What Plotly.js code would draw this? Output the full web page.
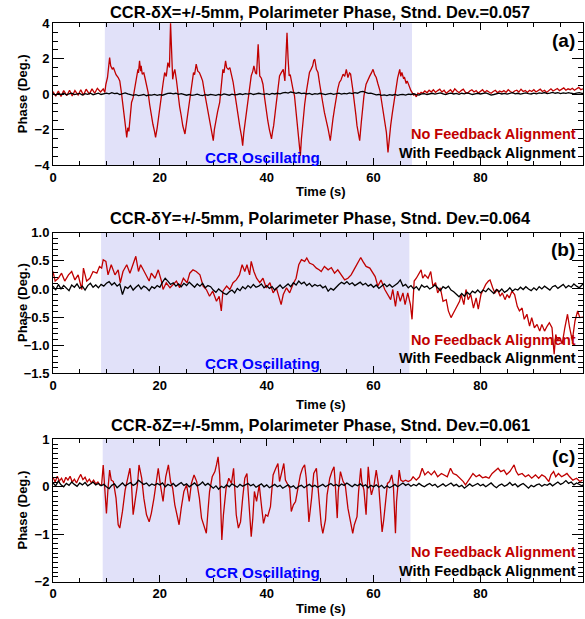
<!DOCTYPE html>
<html><head><meta charset="utf-8">
<script src="https://cdn.plot.ly/plotly-3.0.1.min.js"></script>
<style>html,body{margin:0;padding:0;background:#fff}#plot{width:585px;height:619px}</style>
</head><body><div id="plot"></div>
<script>
// ---------- DATA ----------
const panelTitles = [
  "CCR-\u03b4X=+/-5mm, Polarimeter Phase, Stnd. Dev.=0.057",
  "CCR-\u03b4Y=+/-5mm, Polarimeter Phase, Stnd. Dev.=0.064",
  "CCR-\u03b4Z=+/-5mm, Polarimeter Phase, Stnd. Dev.=0.061"
];
const panelTags = ["(a)", "(b)", "(c)"];
const seriesNames = ["No Feedback Alignment", "With Feedback Alignment"];
const shadeLabel = "CCR Oscillating";
const oscStart = [9.7, 9.0, 9.3];
const oscEnd = [67.2, 66.7, 66.9];

// No-feedback (red) traces: [time (s), phase (deg)]
const noFbA = [
[0,0.15],[0.5,-0.12],[1.0,0.18],[1.5,-0.13],[2.0,0.2],[2.6,-0.08],[3.1,0.22],[3.6,-0.1],[4.1,0.2],[4.7,-0.05],
[5.2,0.25],[5.7,-0.06],[6.2,0.28],[6.8,0.0],[7.3,0.3],[7.8,0.05],[8.3,0.33],[8.9,0.12],[9.4,0.3],[9.7,0.1],
[9.9,0.56],[10.2,0.94],[10.4,1.5],[10.6,2.07],[10.8,1.6],[11.1,1.4],[11.3,1.5],[11.5,1.31],[11.8,1.1],[12.2,0.94],
[12.5,0.75],[12.8,0.1],[13.1,-0.8],[13.3,-1.4],[13.6,-1.9],[13.8,-2.44],[14.0,-1.9],[14.2,-2.1],[14.4,-1.5],[14.7,-0.47],
[15.0,-0.2],[15.3,0.28],[15.6,0.9],[15.9,1.4],[16.0,1.2],[16.2,1.88],[16.4,1.3],[16.5,1.6],[16.7,1.13],[17.0,1.2],
[17.2,0.94],[17.5,0.5],[17.8,0.1],[18.1,-0.6],[18.4,-1.22],[18.7,-1.7],[19.0,-2.1],[19.2,-2.44],[19.5,-1.9],[19.7,-1.4],
[20.0,-0.7],[20.3,-0.1],[20.6,0.6],[20.9,1.22],[21.2,1.0],[21.5,1.78],[21.8,1.5],[22.0,4.03],[22.2,2.0],[22.4,0.84],
[22.6,1.2],[22.8,1.4],[23.1,0.8],[23.4,-0.1],[23.7,-0.7],[24.0,-1.22],[24.3,-1.8],[24.7,-2.25],[24.9,-1.8],[25.1,-1.4],
[25.4,-0.6],[25.7,0.1],[26.0,0.7],[26.3,1.22],[26.5,1.1],[26.8,1.69],[27.1,1.3],[27.4,1.22],[27.7,1.0],[28.0,0.75],
[28.3,0.2],[28.7,-0.47],[29.0,-0.9],[29.3,-1.4],[29.6,-1.9],[30.0,-2.63],[30.2,-2.0],[30.5,-1.4],[30.8,-1.0],[31.2,-0.47],
[31.5,0.5],[31.8,1.4],[32.0,1.2],[32.3,1.88],[32.5,1.5],[32.8,1.4],[33.1,1.5],[33.4,1.13],[33.7,0.7],[34.0,0.1],
[34.3,-0.6],[34.6,-1.22],[35.0,-1.9],[35.3,-2.4],[35.5,-2.91],[35.7,-2.2],[35.9,-1.78],[36.2,-1.1],[36.5,-0.47],[36.8,0.3],
[37.1,1.03],[37.4,1.3],[37.6,1.6],[37.9,1.2],[38.1,1.13],[38.4,2.82],[38.6,1.5],[38.7,1.03],[39.0,0.9],[39.3,0.56],
[39.6,-0.2],[39.9,-1.03],[40.2,-1.5],[40.5,-2.0],[40.9,-2.53],[41.1,-2.1],[41.3,-1.78],[41.6,-1.0],[41.8,-0.47],[42.1,0.3],
[42.4,1.03],[42.7,1.2],[43.1,1.4],[43.4,0.75],[43.6,2.0],[43.8,3.47],[44.0,2.0],[44.2,1.03],[44.4,1.1],[44.6,0.66],
[44.9,0.3],[45.2,-0.1],[45.5,-1.0],[45.8,-1.97],[46.0,-2.6],[46.3,-3.47],[46.5,-2.5],[46.8,-1.4],[47.1,-0.6],[47.4,0.1],
[47.7,0.7],[48.0,1.22],[48.3,1.4],[48.6,1.6],[48.8,1.9],[49.0,1.97],[49.3,1.4],[49.6,1.22],[49.9,0.6],[50.2,-0.1],
[50.5,-0.5],[50.8,-1.03],[51.2,-1.5],[51.5,-1.97],[51.9,-2.63],[52.1,-2.0],[52.4,-1.4],[52.7,-0.8],[53.0,-0.1],[53.3,0.3],
[53.6,0.66],[53.9,0.8],[54.3,1.13],[54.6,1.0],[54.9,1.4],[55.2,0.94],[55.5,1.2],[55.7,1.13],[56.1,0.28],[56.4,-0.66],
[56.7,-1.2],[56.9,-1.78],[57.2,-2.2],[57.4,-2.63],[57.7,-1.6],[58.0,-0.8],[58.2,-0.1],[58.6,0.56],[58.9,0.8],[59.3,1.03],
[59.6,1.2],[59.9,1.4],[60.2,1.1],[60.5,0.94],[60.8,0.6],[61.2,0.19],[61.5,-0.4],[61.8,-1.03],[62.1,-1.6],[62.4,-2.16],
[62.7,-3.29],[62.9,-2.5],[63.2,-1.78],[63.5,-1.1],[63.8,-0.47],[64.0,0.1],[64.2,0.47],[64.5,0.9],[64.9,1.4],[65.1,1.0],
[65.3,1.22],[65.6,0.9],[65.8,0.94],[66.1,0.6],[66.3,0.75],[66.7,0.38],[67.0,0.2],[67.2,0.1],[67.5,-0.05],[67.7,0.0],
[68.0,-0.15],[68.3,0.05],[68.6,0.0],[68.9,0.1],[69.2,0.05],[69.6,0.18],[70.0,0.08],[70.4,0.22],[70.8,0.12],[71.2,0.25],
[71.6,0.1],[72.0,0.2],[72.4,0.28],[72.8,0.12],[73.2,0.22],[73.6,0.05],[74.0,0.15],[74.4,0.25],[74.8,0.1],[75.2,0.3],
[75.6,0.18],[76.0,0.08],[76.4,0.2],[76.8,0.28],[77.2,0.1],[77.6,0.05],[78.0,0.18],[78.4,0.25],[78.8,0.12],[79.2,0.2],
[79.6,0.06],[80.0,0.15],[80.4,0.25],[80.8,0.1],[81.2,0.2],[81.6,0.12],[82.0,0.05],[82.4,0.15],[82.8,0.22],[83.2,0.08],
[83.6,0.18],[84.0,0.12],[84.4,0.2],[84.8,0.1],[85.2,0.25],[85.6,0.15],[86.0,0.08],[86.4,0.18],[86.8,0.22],[87.2,0.12],
[87.6,0.28],[88.0,0.15],[88.4,0.2],[88.8,0.1],[89.2,0.22],[89.6,0.15],[90.0,0.25],[90.4,0.12],[90.8,0.2],[91.2,0.28],
[91.6,0.15],[92.0,0.22],[92.4,0.1],[92.8,0.2],[93.2,0.3],[93.6,0.18],[94.0,0.25],[94.4,0.32],[94.8,0.2],[95.2,0.28],
[95.6,0.35],[96.0,0.22],[96.4,0.3],[96.8,0.25],[97.2,0.33],[97.6,0.22],[98.0,0.3],[98.4,0.38],[98.8,0.25],[99.2,0.3]
];
const noFbB = [
[0,0.31],[0.4,0.14],[1.0,0.19],[1.6,0.28],[2.2,0.14],[2.9,0.25],[3.5,0.31],[4.1,0.16],[4.7,0.25],[5.4,-0.01],
[5.7,0.37],[6.3,0.14],[6.9,0.19],[7.5,0.31],[8.2,0.28],[8.7,0.4],[9.1,0.37],[9.4,0.52],[9.9,0.49],[10.3,0.25],
[10.9,0.43],[11.6,0.25],[12.2,0.34],[12.6,0.11],[13.1,0.31],[13.8,0.43],[14.4,0.28],[15.0,0.43],[15.5,0.58],[16.0,0.31],
[16.4,0.43],[16.9,0.34],[17.5,0.22],[18.0,0.14],[18.4,0.28],[19.1,0.19],[19.7,0.34],[20.3,0.14],[20.6,-0.01],[21.2,0.11],
[21.9,0.02],[22.5,0.08],[23.1,0.14],[23.7,0.02],[24.4,0.19],[25.1,0.11],[25.6,0.28],[26.2,0.34],[26.8,0.31],[27.5,0.25],
[28.1,0.05],[28.7,-0.01],[29.3,-0.13],[29.9,-0.04],[30.6,-0.22],[31.1,-0.13],[31.5,-0.39],[31.8,-0.04],[32.5,0.05],[33.1,-0.01],
[33.7,0.11],[34.3,0.16],[34.9,0.25],[35.4,0.43],[35.9,0.31],[36.3,0.43],[36.8,0.25],[37.1,0.49],[37.6,0.31],[38.1,0.19],
[38.7,0.11],[39.3,0.19],[39.9,0.02],[40.6,0.11],[41.2,-0.07],[41.8,0.02],[42.4,-0.19],[42.7,-0.28],[43.1,-0.1],[43.7,0.02],
[44.3,-0.07],[44.9,0.08],[45.5,0.19],[46.0,0.43],[46.5,0.52],[47.1,0.49],[47.5,0.55],[48.0,0.46],[48.7,0.43],[49.3,0.37],
[49.8,0.34],[50.2,0.31],[50.8,0.4],[51.5,0.34],[52.1,0.38],[52.7,0.28],[53.3,0.34],[54.0,0.25],[54.6,0.16],[55.2,0.19],
[55.8,0.25],[56.5,0.37],[57.1,0.49],[57.6,0.56],[58.0,0.49],[58.6,0.4],[59.3,0.37],[59.9,0.28],[60.3,0.22],[60.8,0.05],
[61.4,0.16],[62.1,-0.01],[62.7,-0.1],[63.2,-0.19],[63.6,-0.01],[64.1,-0.31],[64.5,-0.04],[65.0,-0.22],[65.5,-0.07],[65.9,-0.28],
[66.4,-0.07],[66.9,-0.28],[67.2,-0.54],[67.6,0.14],[68.0,0.19],[68.6,0.31],[68.9,0.34],[69.2,0.19],[69.6,0.25],[70.2,0.19],
[70.7,0.31],[71.1,0.05],[71.6,0.11],[72.0,-0.07],[72.5,0.02],[73.0,-0.22],[73.6,-0.19],[74.0,-0.39],[74.5,-0.51],[75.0,-0.42],
[75.5,-0.34],[76.1,-0.22],[76.4,-0.1],[76.9,-0.28],[77.3,-0.01],[77.7,-0.19],[78.2,-0.1],[78.7,-0.34],[79.2,-0.16],[79.6,-0.36],
[80.1,-0.1],[80.6,-0.01],[81.0,0.08],[81.5,0.14],[81.8,0.16],[82.3,0.02],[82.7,-0.07],[83.2,-0.01],[83.7,-0.13],[84.1,-0.07],
[84.6,-0.19],[85.0,-0.1],[85.4,-0.16],[85.9,-0.04],[86.4,-0.1],[86.9,-0.31],[87.3,-0.39],[87.8,-0.34],[88.2,-0.54],[88.7,-0.45],
[89.2,-0.66],[89.6,-0.51],[90.1,-0.69],[90.6,-0.63],[91.1,-0.75],[91.5,-0.63],[92.0,-0.75],[92.5,-0.66],[92.9,-0.6],[93.4,-0.69],
[93.8,-1.16],[94.1,-0.81],[94.4,-0.92],[94.8,-0.86],[95.3,-0.98],[95.8,-0.69],[96.3,-0.45],[96.7,-0.69],[97.2,-0.92],[97.7,-0.57],
[98.2,-0.39],[98.6,-0.51],[99.2,-0.5]
];
const noFbC = [
[0,0.2],[0.4,0.1],[0.8,0.22],[1.2,0.12],[1.6,0.18],[2.0,0.08],[2.4,0.2],[2.8,0.14],[3.2,0.22],[3.6,0.1],
[4.0,0.16],[4.4,0.08],[4.8,0.18],[5.2,0.26],[5.6,0.15],[6.0,0.2],[6.4,0.1],[6.8,0.16],[7.2,0.08],[7.6,0.14],
[8.0,0.06],[8.4,0.1],[8.8,0.03],[9.1,0.04],[9.4,0.46],[9.7,0.04],[10.0,-0.56],[10.3,-0.03],[10.6,0.35],[10.9,0.14],
[11.3,0.11],[11.8,-0.24],[12.2,-0.8],[12.5,-0.87],[13.0,-0.52],[13.5,-0.07],[13.9,0.11],[14.4,0.39],[14.7,0.04],[15.0,-0.59],
[15.3,-0.35],[15.8,0.04],[16.1,0.46],[16.6,0.18],[17.0,-0.24],[17.5,-0.59],[18.0,-0.74],[18.4,-0.56],[18.9,-0.24],[19.4,0.11],
[19.7,0.39],[20.1,0.04],[20.6,-0.31],[21.1,0.21],[21.6,0.46],[22.0,0.11],[22.4,-0.03],[22.8,-0.38],[23.2,-0.56],[23.6,-0.8],
[24.0,-0.45],[24.5,-0.1],[25.0,0.04],[25.5,-0.31],[25.9,0.07],[26.4,0.25],[26.9,0.11],[27.4,-0.24],[27.8,-0.66],[28.2,-0.8],
[28.7,-0.98],[29.0,-0.52],[29.3,-0.1],[29.8,0.21],[30.3,0.32],[30.6,0.46],[30.9,0.63],[31.2,0.25],[31.4,-0.52],[31.6,-1.12],
[31.9,-0.59],[32.4,-0.03],[32.9,0.18],[33.4,0.07],[33.8,0.39],[34.1,-0.17],[34.3,-0.59],[34.7,-0.87],[35.1,-0.74],[35.5,-0.24],
[35.9,0.18],[36.3,0.28],[36.7,-0.45],[37.1,-1.05],[37.4,-0.66],[37.7,-0.1],[38.1,-0.31],[38.6,0.04],[39.0,-0.38],[39.4,-0.77],
[39.8,-0.59],[40.2,-0.62],[40.7,-0.42],[41.2,0.25],[41.7,0.39],[42.1,0.49],[42.4,0.11],[42.7,0.25],[43.2,0.49],[43.5,0.14],
[44.0,0.04],[44.3,-0.03],[44.6,-0.52],[45.0,-0.38],[45.4,-0.31],[45.8,-0.03],[46.3,0.25],[46.7,0.39],[47.1,0.46],[47.4,0.18],
[47.9,-0.74],[48.4,-0.24],[48.8,0.28],[49.3,0.39],[49.6,0.04],[49.9,-0.31],[50.2,-0.8],[50.5,-0.98],[51.0,-0.7],[51.3,-0.17],
[51.8,0.18],[52.2,0.32],[52.6,0.42],[52.8,0.11],[53.2,-0.66],[53.4,-0.1],[53.8,0.32],[54.3,0.11],[54.7,0.04],[55.2,-0.45],
[55.7,-0.74],[56.1,-0.98],[56.4,-0.8],[56.9,-0.63],[57.2,-0.1],[57.6,0.39],[57.8,0.11],[58.2,-0.07],[58.6,-0.59],[59.0,0.42],
[59.3,0.04],[59.6,-0.17],[60.1,0.04],[60.5,0.35],[61.0,-0.03],[61.3,-0.59],[61.6,-0.95],[61.9,-0.7],[62.2,-0.31],[62.6,0.07],
[63.0,0.11],[63.4,0.25],[63.7,0.04],[63.9,-0.45],[64.1,-0.98],[64.3,-0.31],[64.6,0.18],[64.8,0.35],[65.1,0.14],[65.5,0.11],
[66.0,0.14],[66.5,0.11],[67.0,0.14],[67.4,0.21],[68.0,0.14],[68.6,0.21],[69.1,0.39],[69.6,0.25],[70.2,0.32],[70.8,0.25],
[71.4,0.33],[72.0,0.21],[72.7,0.28],[73.3,0.25],[73.8,0.21],[74.4,0.39],[74.9,0.28],[75.5,0.25],[76.1,0.18],[76.8,0.11],
[77.2,0.04],[77.7,0.14],[78.2,0.21],[78.6,0.28],[79.2,0.21],[79.8,0.25],[80.4,0.19],[81.0,0.21],[81.6,0.18],[82.2,0.28],
[82.9,0.35],[83.3,0.39],[83.8,0.32],[84.4,0.35],[84.9,0.26],[85.5,0.32],[85.9,0.39],[86.3,0.46],[86.7,0.32],[87.1,0.25],
[87.8,0.28],[88.4,0.21],[89.0,0.25],[89.6,0.18],[90.3,0.25],[90.9,0.18],[91.5,0.25],[92.1,0.21],[92.8,0.11],[93.2,0.25],
[93.7,0.32],[94.1,0.21],[94.6,0.28],[95.2,0.21],[95.8,0.25],[96.2,0.28],[96.7,0.21],[97.3,0.14],[98.0,0.18],[98.6,0.11],
[99.1,0.14]
];

// With-feedback (black) traces: phase (deg) sampled every 0.5 s from t = 0
const sampleStep = 0.5;
const withFbA = [
0.03,-0.05,0.04,-0.02,0.05,-0.04,0.02,0.06,-0.03,0.01,0.04,-0.05,0.03,-0.01,0.05,-0.03,0.02,0.06,-0.02,0.03,
0.06,0.02,0.08,0.03,0.05,-0.02,0.04,0.07,0.01,-0.04,-0.07,-0.03,-0.08,-0.05,-0.02,-0.09,-0.04,-0.06,-0.01,-0.07,
-0.03,-0.06,0.01,0.04,0.06,0.02,0.05,-0.01,0.03,-0.03,-0.06,-0.02,-0.07,-0.04,0.0,-0.05,-0.08,-0.03,-0.06,-0.01,
-0.04,-0.07,-0.02,-0.05,0.01,-0.03,-0.06,0.0,-0.04,-0.02,0.02,-0.03,0.03,0.0,0.04,-0.02,0.02,0.05,0.01,-0.01,
0.03,-0.02,0.04,0.01,0.05,0.02,0.07,0.1,0.06,0.12,0.08,0.04,0.09,0.03,0.06,0.01,0.04,-0.02,0.03,0.0,
0.05,0.01,-0.03,0.02,0.04,-0.01,0.03,0.06,0.0,0.04,0.02,0.07,0.03,0.08,0.05,0.13,0.16,0.09,0.04,0.06,
0.01,-0.04,-0.02,-0.07,-0.04,-0.08,-0.03,-0.06,-0.02,-0.07,-0.03,-0.01,-0.05,0.0,-0.02,0.02,-0.03,-0.05,0.01,0.03,
-0.02,0.03,0.05,0.0,0.04,0.07,0.02,-0.03,0.03,0.06,0.01,0.04,-0.01,0.05,0.02,0.07,0.03,-0.02,0.02,0.05,
0.01,0.04,0.07,0.02,-0.05,-0.02,0.03,0.06,0.01,0.04,0.0,0.05,0.08,0.02,0.05,0.0,0.04,0.07,0.03,0.01,
0.06,0.02,0.07,0.04,0.09,0.03,0.06,0.1,0.05,0.08,0.03,0.07,0.04,0.09,0.05,0.02,0.06,0.08,0.04,0.06
];
const withFbB = [
0.05,-0.02,0.08,0.0,0.06,0.02,-0.03,0.07,0.03,0.09,0.01,0.05,-0.02,0.06,0.1,0.03,0.07,0.02,0.08,0.05,
0.1,0.13,0.07,0.11,0.05,0.09,-0.1,0.04,0.01,0.06,-0.02,0.03,0.07,0.0,0.05,0.02,-0.03,0.04,0.01,0.06,
0.03,0.12,0.19,0.14,0.08,0.11,0.05,0.09,0.04,0.1,0.06,0.12,0.07,0.03,0.09,0.05,0.1,0.02,0.06,0.04,
-0.02,-0.06,0.0,-0.04,-0.08,-0.1,-0.05,-0.02,-0.07,0.01,-0.03,0.04,0.0,0.06,0.02,0.08,0.03,0.05,0.09,0.02,
0.06,0.01,0.04,-0.02,0.03,0.07,0.01,0.05,0.09,0.04,0.11,0.07,0.14,0.09,0.12,0.06,0.1,0.04,0.08,0.05,
0.07,0.02,0.05,-0.04,0.01,-0.02,0.04,0.08,0.12,0.09,0.13,0.08,0.11,0.06,0.09,0.12,0.07,0.1,0.05,0.08,
0.03,0.07,0.01,0.05,0.09,0.04,0.08,0.03,0.06,0.1,0.16,0.05,0.08,0.02,0.06,0.0,0.04,-0.02,0.07,0.03,
0.05,0.0,0.03,0.07,0.02,-0.03,0.04,0.01,0.05,-0.02,-0.05,-0.1,-0.14,-0.08,-0.13,-0.06,-0.1,-0.04,-0.07,-0.02,
-0.07,-0.02,-0.05,0.01,-0.04,-0.08,-0.01,-0.05,0.0,-0.06,-0.03,0.02,-0.04,0.0,-0.02,0.03,-0.01,0.04,0.0,-0.03,
0.02,-0.02,0.04,0.0,0.05,0.01,-0.02,0.04,0.06,0.01,0.05,0.08,0.02,0.06,0.03,0.09,0.05,0.02,0.07,0.1
];
const withFbC = [
0.08,0.02,0.12,0.04,0.0,0.07,0.03,0.1,0.05,0.01,0.08,0.04,0.09,0.02,0.06,0.1,0.04,0.07,0.02,0.05,
0.0,-0.04,0.03,0.06,-0.02,0.04,0.08,0.02,0.05,0.09,0.03,0.06,0.14,0.1,0.05,0.08,0.02,0.06,0.03,0.07,
0.04,0.08,0.0,0.05,0.02,0.07,0.01,0.05,0.09,0.03,0.06,0.0,0.04,0.08,0.02,0.05,0.1,0.03,0.07,0.01,
-0.03,0.02,-0.05,0.01,-0.02,0.04,0.0,0.06,0.02,-0.01,0.05,0.01,0.04,0.07,0.02,0.05,-0.01,0.03,0.06,0.0,
0.04,-0.02,0.02,0.05,0.0,0.03,-0.03,0.01,0.04,-0.01,0.02,-0.04,0.01,0.03,-0.02,0.02,0.05,0.0,0.03,-0.01,
0.02,0.05,0.0,0.04,0.07,0.02,0.05,0.01,0.06,0.03,0.08,0.04,0.0,0.05,0.02,0.06,0.01,0.04,-0.02,0.03,
0.0,0.04,-0.01,0.03,-0.03,0.02,-0.02,0.01,0.05,0.0,0.04,0.08,0.03,0.06,0.01,0.05,0.02,0.07,0.03,0.0,
0.04,0.07,0.02,0.05,-0.01,0.03,0.06,0.01,0.04,0.08,0.02,0.05,0.0,0.03,-0.03,0.02,0.06,0.01,0.04,0.07,
0.02,0.05,0.0,0.04,0.08,0.02,-0.02,0.03,0.06,0.01,0.04,0.09,0.03,0.06,0.0,0.04,0.07,0.02,-0.03,0.03,
0.0,0.04,0.06,0.01,0.05,0.03,0.07,0.02,0.06,0.1,0.05,0.08,0.13,0.07,0.1,0.04,0.08,0.05,0.02,0.06
];

const xRange = [0, 99.2];
const yRanges = [[-4, 4], [-1.5, 1.0], [-2, 1]];
const yMajor = [2, 0.5, 1];
const yMinor = [0.5, 0.1, 0.1];
const xTickVals = [0, 20, 40, 60, 80];
const xTitle = "Time (s)";
const yTitle = "Phase (Deg.)";

// ---------- STYLE / LAYOUT ----------
const RED = "#c00000", BLUE = "#0000ff", SHADE = "#e1e1f9";
const FONT = "Liberation Sans, Arial, Helvetica, sans-serif";
const W = 585, H = 619, ML = 53, MR = 2, PW = W - ML - MR;
const px = v => (v - ML) / PW;      // pixel x -> paper
const py = v => 1 - v / H;          // pixel y -> paper
const frames = [[23.3, 165], [232.7, 373.3], [439.3, 581.7]];
const titleY = [12, 218, 425];
const xTitleY = [191, 404, 608];
const tagY = [41, 250, 456];
const noFbY = [134, 340, 552];
const withFbY = [153, 358, 571];
const oscY = [157, 363, 572];

const redSets = [noFbA, noFbB, noFbC];
const blackSets = [withFbA, withFbB, withFbC];

const traces = [];
const layout = {
  width: W, height: H, margin: {l: ML, r: MR, t: 0, b: 0},
  paper_bgcolor: "#fff", plot_bgcolor: "rgba(0,0,0,0)", showlegend: false,
  font: {family: FONT, size: 13, color: "#000", weight: "bold"},
  shapes: [], annotations: []
};

for (let i = 0; i < 3; i++) {
  const s = i === 0 ? "" : String(i + 1);
  const xa = "x" + s, ya = "y" + s;
  traces.push({type: "scatter", mode: "lines", xaxis: xa, yaxis: ya,
    x: redSets[i].map(p => p[0]), y: redSets[i].map(p => p[1]),
    line: {color: RED, width: 1.3}, name: seriesNames[0]});
  traces.push({type: "scatter", mode: "lines", xaxis: xa, yaxis: ya,
    x0: 0, dx: sampleStep, y: blackSets[i],
    line: {color: "#000", width: 1.3}, name: seriesNames[1]});

  const dom = [py(frames[i][1]), py(frames[i][0])];
  layout["xaxis" + s] = {
    domain: [0, 1], range: xRange, anchor: ya, tickvals: xTickVals,
    ticks: "inside", ticklen: 7, tickwidth: 1, tickcolor: "#000",
    minor: {dtick: 5, tick0: 0, ticks: "inside", ticklen: 4, tickcolor: "#000", showgrid: false},
    showline: true, linecolor: "#000", linewidth: 1, mirror: "allticks",
    showgrid: false, zeroline: false, automargin: false,
    tickfont: {family: FONT, size: 13, weight: "bold", color: "#000"}
  };
  layout["yaxis" + s] = {
    domain: dom, range: yRanges[i], anchor: xa, dtick: yMajor[i], tick0: 0,
    ticks: "inside", ticklen: 11, tickwidth: 1, tickcolor: "#000",
    minor: {dtick: yMinor[i], ticks: "inside", ticklen: 5, tickcolor: "#000", showgrid: false},
    showline: true, linecolor: "#000", linewidth: 1, mirror: "allticks",
    showgrid: false, zeroline: false, automargin: false,
    tickformat: i === 1 ? ".1f" : "d",
    tickfont: {family: FONT, size: 13, weight: "bold", color: "#000"}
  };
  layout.shapes.push({type: "rect", xref: xa, yref: ya + " domain",
    x0: oscStart[i], x1: oscEnd[i], y0: 0, y1: 1, layer: "below",
    fillcolor: SHADE, line: {width: 0}});

  const ann = (text, x, y, opts) => Object.assign({text, x: px(x), y: py(y), xref: "paper", yref: "paper",
    showarrow: false, xanchor: "center", yanchor: "middle",
    font: {family: FONT, size: 13, weight: "bold", color: "#000"}}, opts || {});
  layout.annotations.push(ann(panelTitles[i], 320, titleY[i], {font: {family: FONT, size: 16.4, weight: "bold", color: "#000"}}));
  layout.annotations.push(ann(xTitle, 321, xTitleY[i]));
  layout.annotations.push(ann(yTitle, 22, (frames[i][0] + frames[i][1]) / 2, {textangle: -90}));
  layout.annotations.push(ann(panelTags[i], 577, tagY[i], {xanchor: "right", font: {family: FONT, size: 19, weight: "bold", color: "#000"}}));
  layout.annotations.push(ann(seriesNames[0], 578, noFbY[i], {xanchor: "right", font: {family: FONT, size: 14.5, weight: "bold", color: RED}}));
  layout.annotations.push(ann(seriesNames[1], 578, withFbY[i], {xanchor: "right", font: {family: FONT, size: 14.5, weight: "bold", color: "#000"}}));
  layout.annotations.push(ann(shadeLabel, 262, oscY[i], {font: {family: FONT, size: 15.2, weight: "bold", color: BLUE}}));
}

Plotly.newPlot("plot", traces, layout, {staticPlot: true, displayModeBar: false});
</script>
</body></html>
